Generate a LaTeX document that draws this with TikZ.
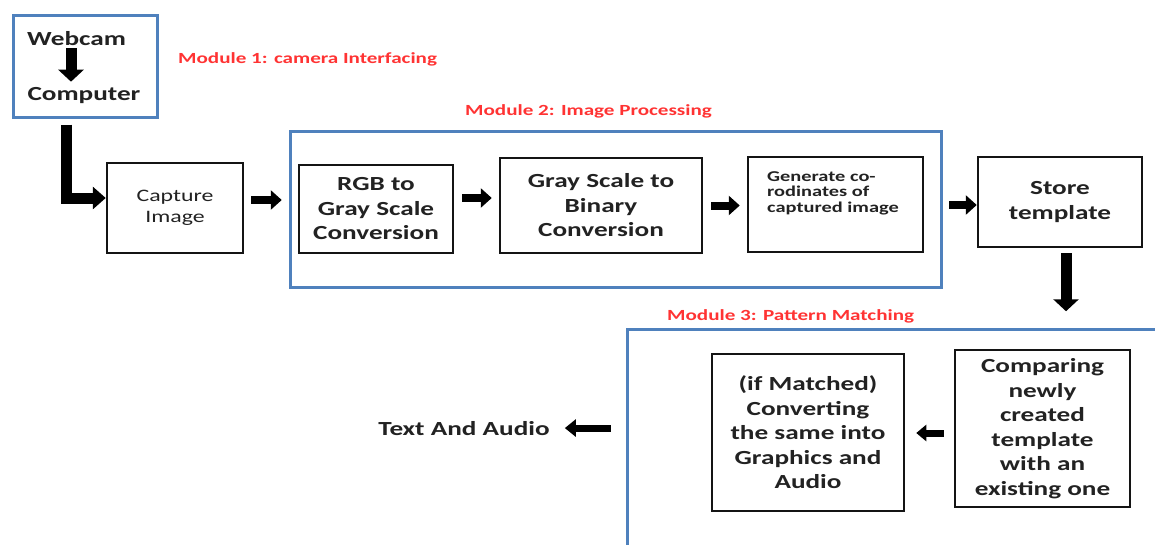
\documentclass[tikz,border=0pt]{standalone}
\usepackage{fontspec}
\setmainfont{Carlito}[FakeStretch=1.36]
\usetikzlibrary{arrows.meta}
\definecolor{modblue}{HTML}{4F81BD}
\definecolor{modred}{HTML}{FF3333}
\definecolor{txt}{HTML}{222222}
\tikzset{
  module/.style={draw=modblue, line width=3pt, inner sep=0pt},
  box/.style={draw=black!92, line width=2.5pt, inner sep=0pt, align=center, text=txt,
    font=\bfseries\fontsize{20}{24.5}\selectfont},
  modlabel/.style={text=modred, font=\bfseries\fontsize{15.5}{18}\selectfont, inner sep=0pt, anchor=base west},
  plain/.style={text=txt, inner sep=0pt},
  blockarrow/.style={line width=8pt, -{Triangle[length=11pt,width=19pt]}, black},
  bigarrow/.style={line width=11pt, line join=miter, -{Triangle[length=12pt,width=25pt]}, black},
}
\begin{document}
\begin{tikzpicture}[x=1pt,y=-1pt]
\useasboundingbox (0,0) rectangle (1155,544);
\clip (0,0) rectangle (1155,544);
\fill[white] (0,0) rectangle (1155,544);

% Module 1
\node[module, minimum width=144pt, minimum height=102pt] (mod1) at (85,66) {};
\node[plain, font=\bfseries\fontsize{20}{24}\selectfont, anchor=base] (webcam) at (76.5,45) {Webcam};
\node[plain, font=\bfseries\fontsize{20}{24}\selectfont, anchor=base] (computer) at (84,100) {Computer};
\draw[bigarrow] ([xshift=-5.5pt,yshift=-3pt]webcam.south) -- ([xshift=-13pt,yshift=5pt]computer.north);
\node[modlabel] (lab1) at (178,63) {Module 1: camera Interfacing};

% Module 2
\node[module, minimum width=651pt, minimum height=156pt] (mod2) at (615.5,209) {};
\node[modlabel] (lab2) at (465,115) {Module 2: Image Processing};

% Module 3
\node[module, minimum width=573pt, minimum height=271pt] (mod3) at (913.5,464.5) {};
\node[modlabel] (lab3) at (667,320) {Module 3: Pattern Matching};

% Boxes
\node[box, minimum width=136pt, minimum height=90pt, font=\fontsize{17.5}{21.5}\selectfont] (capture) at (175,208) {Capture\\Image};
\node[box, minimum width=154pt, minimum height=88pt] (rgb) at (376,209) {RGB to\\Gray Scale\\Conversion};
\node[box, minimum width=202pt, minimum height=95pt] (gray) at (601,205.5) {Gray Scale to\\Binary\\Conversion};
\node[box, minimum width=175pt, minimum height=95pt] (gen) at (835.5,204.5) {};
\node[plain, font=\bfseries\fontsize{15}{15.5}\selectfont, align=left, anchor=north west] (gentext) at (767,171) {Generate co-\\rodinates of\\captured image};
\node[box, minimum width=164pt, minimum height=90pt] (store) at (1060,202) {Store\\template};
\node[box, minimum width=175pt, minimum height=157pt] (compare) at (1042.5,428.5) {Comparing\\newly\\created\\template\\with an\\existing one};
\node[box, minimum width=192pt, minimum height=157pt] (matched) at (808,432.5) {(if Matched)\\Converting\\the same into\\Graphics and\\Audio};
\node[plain, font=\bfseries\fontsize{20}{24}\selectfont, anchor=base] (textaudio) at (464,435) {Text And Audio};

% Connectors
\draw[bigarrow, -{Triangle[length=13pt,width=22pt]}] ([xshift=-19pt,yshift=-6pt]mod1.south) |- ([yshift=10pt]capture.west);
\draw[blockarrow, shorten <=7pt, shorten >=16pt] ([yshift=8pt]capture.east) -- ([yshift=8pt]capture.east -| rgb.west);
\draw[blockarrow, shorten <=8pt, shorten >=7pt] ([yshift=11pt]rgb.east) -- ([yshift=11pt]rgb.east -| gray.west);
\draw[blockarrow, shorten <=8pt, shorten >=7pt] (gray.east) -- (gray.east -| gen.west);
\draw[blockarrow, shorten <=25pt] ([yshift=-0.5pt]gen.east) -- ([yshift=-0.5pt]gen.east -| store.west);
\draw[bigarrow] ([xshift=6pt,yshift=-5pt]store.south) -- ([xshift=6pt,yshift=-63pt]store.south);
\draw[blockarrow, line width=7pt, -{Triangle[length=10pt,width=16pt]}, shorten <=10pt, shorten >=11pt] ([yshift=-4.5pt]compare.west) -- ([yshift=-4.5pt]compare.west -| matched.east);
\draw[blockarrow, line width=7pt, -{Triangle[length=11pt,width=17pt]}, shorten <=15pt, shorten >=15pt] (textaudio.east -| mod3.west) -- (textaudio.east);
\end{tikzpicture}
\end{document}
